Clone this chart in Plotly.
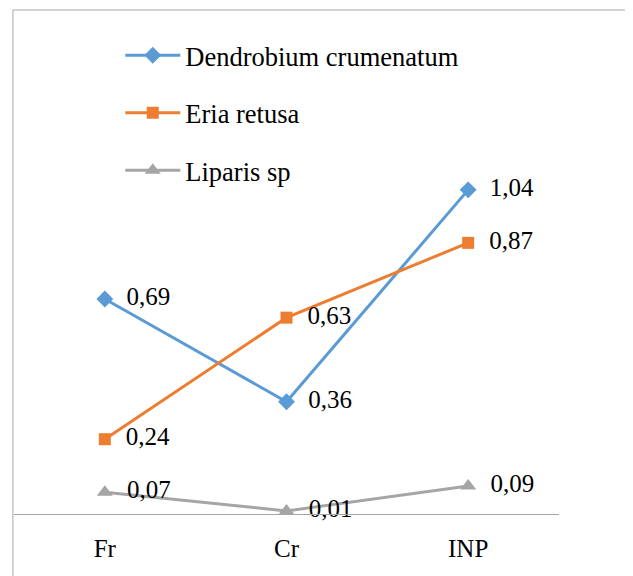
import plotly.graph_objects as go

categories = ["Fr", "Cr", "INP"]
dendrobium = [0.69, 0.36, 1.04]
eria = [0.24, 0.63, 0.87]
liparis = [0.07, 0.01, 0.09]
series_names = ["Dendrobium crumenatum", "Eria retusa", "Liparis sp"]

def lab(vals):
    return ["  " + f"{v:.2f}".replace(".", ",") for v in vals]

FONT = "Liberation Serif"
fig = go.Figure()
specs = [
    (dendrobium, series_names[0], "#5b9bd5", "diamond", 13),
    (eria, series_names[1], "#ed7d31", "square", 12),
    (liparis, series_names[2], "#a5a5a5", "triangle-up", 14),
]
for i, (vals, name, color, sym, size) in enumerate(specs):
    fig.add_trace(go.Scatter(
        x=categories, y=vals, name=name, legendgroup=f"g{i}",
        mode="lines+markers+text",
        line=dict(color=color, width=3),
        marker=dict(symbol=sym, size=size, color=color),
        text=lab(vals), textposition="middle right",
        textfont=dict(family=FONT, size=25, color="#000000"),
        cliponaxis=False,
    ))

fig.update_layout(
    width=625, height=568,
    margin=dict(l=6, r=74, t=132, b=62),
    paper_bgcolor="white", plot_bgcolor="white",
    font=dict(family=FONT, size=25, color="#000000"),
    showlegend=True,
    legend=dict(x=0.195, y=1.29, xanchor="left", yanchor="top",
                font=dict(family=FONT, size=26.5, color="#000000"),
                itemwidth=55,
                tracegroupgap=20, bgcolor="rgba(0,0,0,0)"),
    xaxis=dict(type="category", range=[-0.5, 2.5], showgrid=False,
               showline=True, linecolor="#a6a6a6", linewidth=1,
               ticks="", ticklabelstandoff=12, zeroline=False),
    yaxis=dict(range=[0, 1.2], visible=False, showgrid=False, zeroline=False),
    shapes=[dict(type="rect", xref="paper", yref="paper",
                 x0=-0.002, x1=1.13, y0=-0.3, y1=1.3476,
                 line=dict(color="#a6a6a6", width=1), fillcolor="rgba(0,0,0,0)",
                 layer="below")],
)
fig.write_html("out.html")
